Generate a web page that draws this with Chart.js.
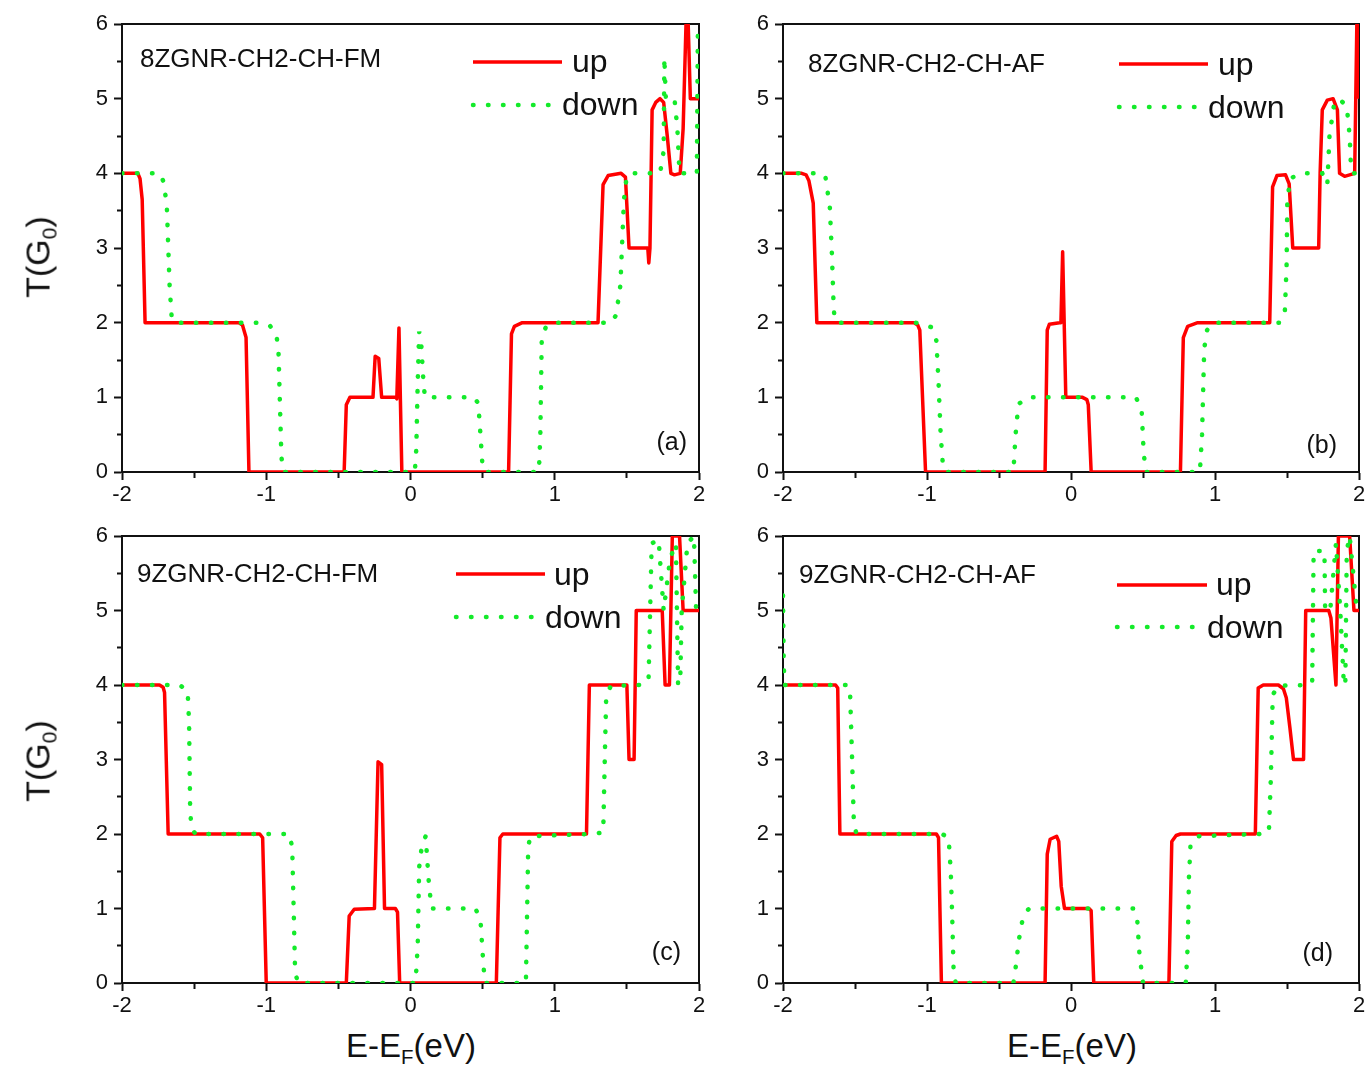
<!DOCTYPE html>
<html>
<head>
<meta charset="utf-8">
<script src="https://cdn.jsdelivr.net/npm/chart.js@4.4.0/dist/chart.umd.min.js"></script>
<style>
body { margin: 0; background: #fff; font-family: "Liberation Sans", Arial, sans-serif; color: #111; }
#page { position: relative; width: 1369px; height: 1078px; overflow: hidden; }
canvas { position: absolute; }
.txt { position: absolute; line-height: 1; white-space: nowrap; }
.name { font-size: 26px; }
.leg { font-size: 32px; }
.letter { font-size: 25px; }
.ytitle { font-size: 34px; line-height: normal; transform: translate(-50%, -50%) rotate(-90deg); }
.xtitle { font-size: 33px; transform: translateX(-50%); }
.ytitle sub, .xtitle sub { font-size: 62%; vertical-align: -0.33em; }
svg { position: absolute; overflow: visible; }
</style>
</head>
<body>
<div id="page">
  <canvas id="ca" width="660" height="508" style="left:60px;top:0px"></canvas>
  <canvas id="cb" width="648" height="508" style="left:721px;top:0px"></canvas>
  <canvas id="cc" width="660" height="507" style="left:60px;top:512px"></canvas>
  <canvas id="cd" width="648" height="507" style="left:721px;top:512px"></canvas>

  <div class="txt ytitle" style="left:40px;top:257px">T(G<sub>0</sub>)</div>
  <div class="txt ytitle" style="left:40px;top:761px">T(G<sub>0</sub>)</div>
  <div class="txt xtitle" style="left:411px;top:1029px">E-E<sub>F</sub>(eV)</div>
  <div class="txt xtitle" style="left:1072px;top:1029px">E-E<sub>F</sub>(eV)</div>
</div>
<script>
// transmission curves, E in eV, T in units of G0
const aUpE = [-2, -1.89, -1.875, -1.86, -1.84, -1.19, -1.165, -1.14, -1.12, -0.46, -0.445, -0.42, -0.26, -0.245, -0.22, -0.2, -0.1, -0.095, -0.08, -0.06, 0.68, 0.70, 0.72, 0.775, 1.30, 1.335, 1.37, 1.46, 1.49, 1.515, 1.645, 1.652, 1.66, 1.675, 1.70, 1.73, 1.755, 1.78, 1.805, 1.83, 1.87, 1.89, 1.91, 1.925, 1.94, 2.0];
const aUpT = [4, 4, 3.93, 3.65, 2.0, 2.0, 1.97, 1.8, 0, 0, 0.9, 1.0, 1.0, 1.55, 1.52, 1.0, 1.0, 0.98, 1.93, 0, 0, 1.85, 1.95, 2.0, 2.0, 3.85, 3.97, 4.0, 3.95, 3.0, 3.0, 2.8, 3.0, 4.85, 4.95, 5.0, 4.95, 4.5, 4.0, 3.98, 4.0, 4.6, 6.0, 6.0, 5.0, 5.0];
const aDownE = [-2, -1.74, -1.715, -1.69, -1.67, -1.655, -1.63, -1.06, -0.975, -0.93, -0.915, -0.905, -0.895, -0.88, 0.03, 0.04, 0.05, 0.06, 0.075, 0.09, 0.1, 0.44, 0.47, 0.485, 0.50, 0.52, 0.89, 0.9, 0.91, 0.94, 1.0, 1.39, 1.425, 1.455, 1.47, 1.48, 1.495, 1.52, 1.73, 1.755, 1.76, 1.77, 1.83, 1.85, 1.865, 1.985, 1.992, 2.0];
const aDownT = [4, 4, 3.9, 3.6, 2.5, 2.05, 2.0, 2.0, 1.96, 1.85, 1.6, 0.9, 0.2, 0, 0, 0.3, 1.2, 1.88, 1.7, 1.2, 1.0, 1.0, 0.92, 0.5, 0.05, 0, 0, 0.5, 1.8, 1.95, 2.0, 2.0, 2.1, 2.5, 3.2, 3.65, 3.9, 4.0, 4.0, 4.3, 5.55, 5.0, 5.0, 4.6, 4.0, 4.0, 5.9, 5.9];

const bUpE = [-2, -1.87, -1.84, -1.82, -1.79, -1.765, -1.09, -1.065, -1.05, -1.01, -0.18, -0.165, -0.15, -0.08, -0.07, -0.058, -0.036, 0.08, 0.11, 0.12, 0.14, 0.76, 0.78, 0.81, 0.88, 1.38, 1.40, 1.43, 1.49, 1.515, 1.54, 1.72, 1.73, 1.745, 1.78, 1.82, 1.85, 1.865, 1.9, 1.97, 1.985, 1.995, 2.0];
const bUpT = [4, 4, 3.98, 3.9, 3.6, 2.0, 2.0, 1.97, 1.9, 0, 0, 1.9, 1.98, 2.0, 2.0, 2.95, 1.0, 1.0, 0.97, 0.9, 0, 0, 1.8, 1.95, 2.0, 2.0, 3.82, 3.97, 3.98, 3.86, 3.0, 3.0, 4.0, 4.85, 4.98, 5.0, 4.85, 4.0, 3.96, 4.0, 6.0, 6.0, 5.0];
const bDownE = [-2, -1.73, -1.705, -1.675, -1.66, -1.648, -1.64, -1.61, -1.08, -0.97, -0.935, -0.92, -0.905, -0.89, -0.87, -0.40, -0.385, -0.365, -0.3, 0.45, 0.49, 0.505, 0.52, 0.895, 0.91, 0.925, 0.945, 0.99, 1.45, 1.485, 1.497, 1.502, 1.52, 1.6, 1.745, 1.78, 1.795, 1.825, 1.86, 1.915, 1.935, 1.945, 1.96, 2.0];
const bDownT = [4, 4, 3.95, 3.55, 2.9, 2.2, 2.02, 2.0, 2.0, 1.94, 1.76, 1.2, 0.5, 0.1, 0, 0, 0.5, 0.91, 1.0, 1.0, 0.85, 0.25, 0, 0, 0.5, 1.65, 1.9, 2.0, 2.0, 2.15, 2.75, 3.6, 3.93, 4.0, 4.0, 3.85, 4.5, 4.9, 5.0, 4.9, 4.5, 4.05, 4.0, 4.0];

const cUpE = [-2, -1.74, -1.715, -1.705, -1.68, -1.045, -1.025, -1.0, -0.445, -0.425, -0.39, -0.25, -0.225, -0.2, -0.18, -0.105, -0.09, -0.075, 0.595, 0.62, 0.64, 1.22, 1.24, 1.5, 1.515, 1.55, 1.565, 1.745, 1.765, 1.795, 1.815, 1.865, 1.89, 2.0];
const cUpT = [4, 4, 3.97, 3.9, 2.0, 2.0, 1.95, 0, 0, 0.9, 0.99, 1.0, 2.97, 2.93, 1.0, 1.0, 0.95, 0, 0, 1.95, 2.0, 2.0, 4.0, 4.0, 3.0, 3.0, 5.0, 5.0, 4.0, 4.0, 6.0, 6.0, 5.0, 5.0];
const cDownE = [-2, -1.6, -1.545, -1.535, -1.528, -1.52, -1.49, -0.84, -0.82, -0.81, -0.8, -0.78, 0.035, 0.05, 0.06, 0.08, 0.105, 0.125, 0.145, 0.45, 0.485, 0.5, 0.515, 0.8, 0.816, 0.83, 1.25, 1.336, 1.349, 1.357, 1.39, 1.595, 1.65, 1.672, 1.72, 1.755, 1.8, 1.84, 1.855, 1.87, 1.88, 1.92, 1.965, 1.98, 2.0];
const cDownT = [4, 4, 3.92, 3.5, 2.4, 2.08, 2.0, 2.0, 1.82, 1.0, 0.15, 0, 0, 0.5, 1.55, 1.86, 1.97, 1.4, 1.0, 1.0, 0.85, 0.4, 0, 0, 1.82, 1.97, 2.0, 2.02, 3.2, 3.87, 3.99, 4.0, 4.05, 5.9, 5.95, 5.0, 5.7, 5.9, 4.0, 4.05, 5.0, 5.9, 6.0, 5.0, 5.0];

const dUpE = [-2, -1.635, -1.62, -1.605, -0.935, -0.92, -0.9, -0.18, -0.165, -0.145, -0.1, -0.085, -0.068, -0.045, 0.125, 0.14, 0.158, 0.68, 0.7, 0.73, 0.76, 1.28, 1.3, 1.335, 1.44, 1.475, 1.495, 1.52, 1.545, 1.615, 1.63, 1.79, 1.805, 1.84, 1.857, 1.935, 1.965, 2.0];
const dUpT = [4, 4, 3.96, 2.0, 2.0, 1.95, 0, 0, 1.73, 1.93, 1.97, 1.9, 1.3, 1.0, 1.0, 0.97, 0, 0, 1.9, 1.98, 2.0, 2.0, 3.96, 4.0, 4.0, 3.95, 3.83, 3.43, 3.0, 3.0, 5.0, 5.0, 4.9, 4.0, 6.0, 6.0, 5.0, 5.0];
const dDownE = [-2, -1.995, -1.99, -1.55, -1.535, -1.52, -1.508, -1.49, -0.895, -0.85, -0.835, -0.825, -0.815, -0.8, -0.4, -0.385, -0.36, -0.33, -0.29, 0.435, 0.46, 0.475, 0.5, 0.797, 0.811, 0.819, 0.83, 0.878, 1.307, 1.374, 1.388, 1.401, 1.442, 1.655, 1.675, 1.685, 1.76, 1.765, 1.8, 1.84, 1.87, 1.895, 1.905, 1.915, 1.935, 1.96, 1.98, 2.0];
const dDownT = [5.2, 4.3, 4.0, 4.0, 3.95, 3.0, 2.15, 2.0, 2.0, 1.95, 1.5, 0.9, 0.15, 0, 0, 0.2, 0.6, 0.92, 1.0, 1.0, 0.85, 0.4, 0, 0, 0.52, 1.41, 1.86, 1.97, 2.0, 2.02, 2.76, 3.87, 3.99, 4.0, 4.05, 5.8, 5.8, 5.0, 5.0, 5.9, 5.0, 4.0, 4.0, 5.8, 6.0, 5.5, 5.1, 5.0];

const xTicks = [-2, -1, 0, 1, 2];
const yTicks = [0, 1, 2, 3, 4, 5, 6];
const panelNames = ['8ZGNR-CH2-CH-FM', '8ZGNR-CH2-CH-AF', '9ZGNR-CH2-CH-FM', '9ZGNR-CH2-CH-AF'];
const panelLetters = ['(a)', '(b)', '(c)', '(d)'];
const seriesNames = ['up', 'down'];

const RED = '#ff0000';
const GREEN = '#14ea2a';
const INK = '#111';

Chart.defaults.font.family = '"Liberation Sans", Arial, sans-serif';
Chart.defaults.color = INK;

const pts = (es, ts) => es.map((e, i) => ({ x: e, y: ts[i] }));

const frame = {
    id: 'frame',
    beforeDatasetsDraw(chart) {
        const { ctx, chartArea: a } = chart;
        ctx.save();
        ctx.strokeStyle = INK;
        ctx.lineWidth = 2;
        ctx.strokeRect(a.left, a.top, a.right - a.left, a.bottom - a.top);
        ctx.restore();
    }
};

const isMinor = (c) => c.tick && Math.abs(c.tick.value - Math.round(c.tick.value)) > 1e-6;

function axisGrid(dash) {
    return {
        display: true,
        drawOnChartArea: false,
        drawTicks: true,
        tickLength: 8,
        tickWidth: 2,
        tickColor: INK,
        tickBorderDash: (c) => isMinor(c) ? dash : []
    };
}

function makeChart(id, upE, upT, downE, downT, padRight) {
    return new Chart(document.getElementById(id), {
        type: 'scatter',
        data: {
            datasets: [
                { label: seriesNames[1], data: pts(downE, downT), showLine: true, borderColor: GREEN, borderWidth: 4.5, borderDash: [0.5, 14.5], borderCapStyle: 'round', pointRadius: 0, order: 0 },
                { label: seriesNames[0], data: pts(upE, upT), showLine: true, borderColor: RED, borderWidth: 3.5, borderJoinStyle: 'round', pointRadius: 0, order: 1 }
            ]
        },
        options: {
            responsive: false,
            animation: false,
            layout: { padding: { left: 0, top: 24, right: padRight, bottom: 0 } },
            plugins: { legend: { display: false }, tooltip: { enabled: false } },
            scales: {
                x: {
                    type: 'linear', min: xTicks[0], max: xTicks[xTicks.length - 1],
                    afterFit: (s) => { s.height = 36; },
                    border: { display: true, color: INK, width: 2 },
                    grid: axisGrid([5, 100]),
                    ticks: { stepSize: 0.5, padding: 2, font: { size: 22 }, color: INK, maxRotation: 0,
                        callback: (v) => xTicks.includes(v) ? String(v) : '' }
                },
                y: {
                    type: 'linear', min: yTicks[0], max: yTicks[yTicks.length - 1],
                    afterFit: (s) => { s.width = 62; },
                    border: { display: true, color: INK, width: 2 },
                    grid: axisGrid([0, 3, 5, 100]),
                    ticks: { stepSize: 0.5, padding: 6, font: { size: 22 }, color: INK,
                        callback: (v) => yTicks.includes(v) ? String(v) : '' }
                }
            }
        },
        plugins: [frame]
    });
}

makeChart('ca', aUpE, aUpT, aDownE, aDownT, 21);
makeChart('cb', bUpE, bUpT, bDownE, bDownT, 10);
makeChart('cc', cUpE, cUpT, cDownE, cDownT, 21);
makeChart('cd', dUpE, dUpT, dDownE, dDownT, 10);

// in-plot labels and legends
const page = document.getElementById('page');
const labelPos = [
    { name: [140, 45], up: [572, 45], down: [562, 88], red: [473, 562, 62], green: [473, 550, 105], letter: [687, 429] },
    { name: [808, 50], up: [1218, 48], down: [1208, 91], red: [1119, 1208, 64], green: [1119, 1197, 107], letter: [1337, 432] },
    { name: [137, 560], up: [554, 558], down: [545, 601], red: [456, 545, 574], green: [456, 533, 617], letter: [681, 939] },
    { name: [799, 561], up: [1216, 568], down: [1207, 611], red: [1117, 1207, 585], green: [1117, 1193, 627], letter: [1333, 940] }
];

function addText(cls, text, left, top, right) {
    const d = document.createElement('div');
    d.className = 'txt ' + cls;
    d.textContent = text;
    d.style.top = top + 'px';
    if (right) d.style.right = (1369 - left) + 'px';
    else d.style.left = left + 'px';
    page.appendChild(d);
}

function addSample(x1, x2, y, dotted) {
    const ns = 'http://www.w3.org/2000/svg';
    const svg = document.createElementNS(ns, 'svg');
    svg.setAttribute('width', 1369);
    svg.setAttribute('height', 1078);
    svg.style.left = '0px';
    svg.style.top = '0px';
    const ln = document.createElementNS(ns, 'line');
    ln.setAttribute('x1', x1); ln.setAttribute('x2', x2);
    ln.setAttribute('y1', y); ln.setAttribute('y2', y);
    ln.setAttribute('stroke', dotted ? GREEN : RED);
    ln.setAttribute('stroke-width', dotted ? 4.5 : 3.5);
    if (dotted) {
        ln.setAttribute('stroke-dasharray', '0.5 14.5');
        ln.setAttribute('stroke-linecap', 'round');
    }
    svg.appendChild(ln);
    page.appendChild(svg);
}

labelPos.forEach((p, i) => {
    addText('name', panelNames[i], p.name[0], p.name[1]);
    addText('leg', seriesNames[0], p.up[0], p.up[1]);
    addText('leg', seriesNames[1], p.down[0], p.down[1]);
    addText('letter', panelLetters[i], p.letter[0], p.letter[1], true);
    addSample(p.red[0], p.red[1], p.red[2], false);
    addSample(p.green[0], p.green[1], p.green[2], true);
});
</script>
</body>
</html>
